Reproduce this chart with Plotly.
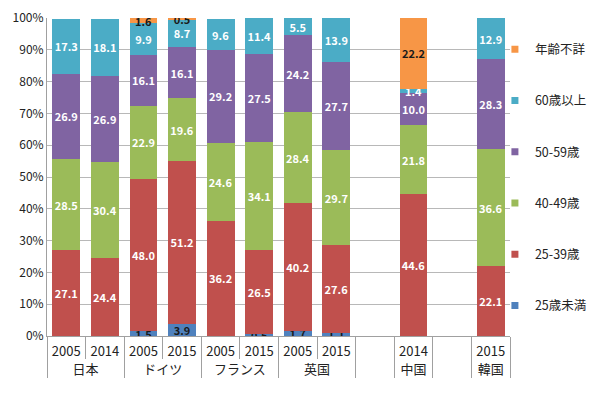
import plotly.graph_objects as go

groups = ["日本", "日本", "ドイツ", "ドイツ", "フランス", "フランス", "英国", "英国", " ", "中国", "  ", "韓国"]
years = ["2005", "2014", "2005", "2015", "2005", "2015", "2005", "2015", " ", "2014", "  ", "2015"]

under25 = [None, None, 1.5, 3.9, None, 0.5, 1.7, 1.1, None, None, None, None]
age25_39 = [27.1, 24.4, 48.0, 51.2, 36.2, 26.5, 40.2, 27.6, None, 44.6, None, 22.1]
age40_49 = [28.5, 30.4, 22.9, 19.6, 24.6, 34.1, 28.4, 29.7, None, 21.8, None, 36.6]
age50_59 = [26.9, 26.9, 16.1, 16.1, 29.2, 27.5, 24.2, 27.7, None, 10.0, None, 28.3]
over60 = [17.3, 18.1, 9.9, 8.7, 9.6, 11.4, 5.5, 13.9, None, 1.4, None, 12.9]
unknown = [None, None, 1.6, 0.5, None, None, None, None, None, 22.2, None, None]

series = [
    ("25歳未満", under25, "#4F81BD", "#1a1a1a"),
    ("25-39歳", age25_39, "#C0504D", "white"),
    ("40-49歳", age40_49, "#9BBB59", "white"),
    ("50-59歳", age50_59, "#8064A2", "white"),
    ("60歳以上", over60, "#4BACC6", "white"),
    ("年齢不詳", unknown, "#F79646", "#1a1a1a"),
]

FONT = "Noto Sans CJK JP"
fig = go.Figure()
for name, vals, color, tcol in series:
    fig.add_trace(go.Bar(
        x=[groups, years], y=vals, name=name,
        marker=dict(color=color, line=dict(width=0)),
        texttemplate="%{y:.1f}", textposition="inside", textangle=0,
        insidetextanchor="middle", constraintext="none",
        textfont=dict(color=tcol, size=11, family=FONT, weight="bold"),
        showlegend=False,
    ))
for name, vals, color, tcol in reversed(series):
    fig.add_trace(go.Scatter(
        x=[None], y=[None], name=name, mode="markers",
        marker=dict(symbol="square", size=7, color=color),
        legendgroup=name, showlegend=True,
    ))

# page body has an 8px margin, so the figure is 8px smaller than the window
fig.update_layout(
    barmode="stack", bargap=0.28,
    width=592, height=385,
    margin=dict(l=39, r=90, t=10, b=57, autoexpand=False),
    paper_bgcolor="white", plot_bgcolor="white",
    font=dict(family=FONT, size=12, color="#222"),
    legend=dict(xref="container", yref="container", x=0.8225, y=0.931,
                xanchor="left", yanchor="top", bgcolor="rgba(0,0,0,0)",
                traceorder="grouped", tracegroupgap=32, maxheight=400,
                itemwidth=30, font=dict(size=12.5, family=FONT, color="#222")),
)
fig.update_yaxes(range=[0, 100], dtick=10, ticksuffix="%", automargin=False,
                 showgrid=True, gridcolor="#b8b8b8", gridwidth=1,
                 showline=True, linecolor="#a0a0a0", ticks="",
                 ticklabeloverflow="allow",
                 tickfont=dict(size=12, family=FONT, color="#222"), zeroline=False)
fig.update_xaxes(showline=True, linecolor="#a0a0a0", ticks="outside", automargin=False,
                 tickson="boundaries", ticklen=22, tickcolor="#a0a0a0",
                 ticklabelstandoff=3,
                 showdividers=True, dividercolor="#a0a0a0", dividerwidth=1,
                 tickfont=dict(size=13, family=FONT, color="#222"))

fig.write_html("out.html")
